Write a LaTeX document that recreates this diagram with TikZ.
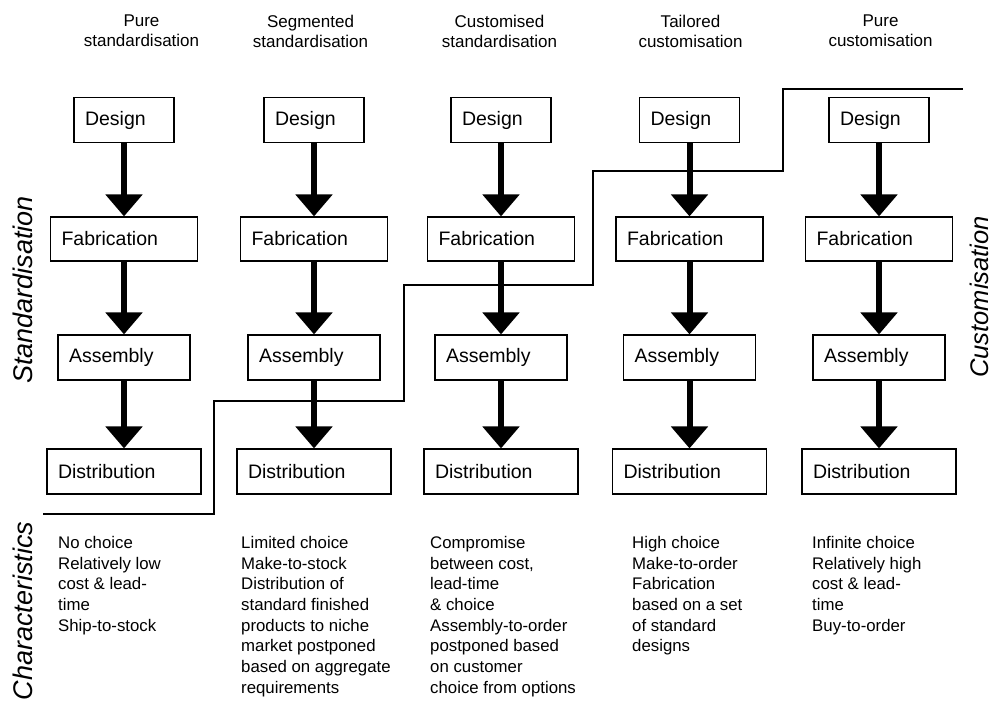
\documentclass[tikz,border=0pt]{standalone}
\usepackage{fontspec}
\setmainfont{Liberation Sans}
\usetikzlibrary{arrows.meta}
\begin{document}
\begin{tikzpicture}[x=1pt,y=-1pt,
  pbox/.style={draw=black, line width=1.2pt, inner xsep=11pt, inner ysep=0pt, align=left, font=\fontsize{19.5}{22}\selectfont},
  dbox/.style={pbox, minimum height=45pt, text width=78pt},
  fbox/.style={pbox, minimum height=44pt, text width=125pt},
  abox/.style={pbox, minimum height=45pt, text width=110pt},
  tbox/.style={pbox, minimum height=45pt, text width=132pt},
  flow/.style={line width=6pt, -{Triangle[width=36pt,length=22pt]}},
  header/.style={anchor=north, inner sep=0pt, align=center, font=\fontsize{17}{20}\selectfont},
  chartext/.style={anchor=north west, inner sep=0pt, align=left, font=\fontsize{16.8}{20.7}\selectfont},
  sidelabel/.style={rotate=90, inner sep=0pt, font=\fontsize{27}{30}\selectfont\itshape},
  stair/.style={line width=1.2pt}
]
\useasboundingbox (0,0) rectangle (993,702);

% headers
\node[header] (h1) at (141.5,15) {Pure\\standardisation};
\node[header] (h2) at (310.5,15) {Segmented\\standardisation};
\node[header] (h3) at (499.5,15) {Customised\\standardisation};
\node[header] (h4) at (690.5,15) {Tailored\\customisation};
\node[header] (h5) at (880.5,15) {Pure\\customisation};

% side labels
\node[sidelabel] (std) at (23,290) {Standardisation};
\node[sidelabel] (chr) at (23,611) {Characteristics};
\node[sidelabel, font=\fontsize{25.5}{28}\selectfont\itshape] (cus) at (979,297) {Customisation};

% boxes
\foreach \i/\xc in {1/124,2/314,3/501,4/689.5,5/879}{
  \node[dbox] (d\i) at (\xc,120) {Design};
  \node[fbox] (f\i) at (\xc,239) {Fabrication};
  \node[abox] (a\i) at (\xc,357.5) {Assembly};
  \node[tbox] (t\i) at (\xc,471.5) {Distribution};
  \draw[flow] (d\i.south) -- (f\i.north);
  \draw[flow] (f\i.south) -- (a\i.north);
  \draw[flow] (a\i.south) -- (t\i.north);
}

% staircase boundary
\coordinate (s0) at (43,514);
\coordinate (s1) at (214,514);
\coordinate (s2) at (214,401);
\coordinate (s3) at (404,401);
\coordinate (s4) at (404,285);
\coordinate (s5) at (593,285);
\coordinate (s6) at (593,171);
\coordinate (s7) at (783,171);
\coordinate (s8) at (783,89);
\coordinate (s9) at (963,89);
\draw[stair] (s0) -- (s1) -- (s2) -- (s3) -- (s4) -- (s5) -- (s6) -- (s7) -- (s8) -- (s9);

% characteristics
\node[chartext] (c1) at (58,536) {No choice\\Relatively low\\cost \& lead-\\time\\Ship-to-stock};
\node[chartext] (c2) at (241,536) {Limited choice\\Make-to-stock\\Distribution of\\standard finished\\products to niche\\market postponed\\based on aggregate\\requirements};
\node[chartext] (c3) at (430,536) {Compromise\\between cost,\\lead-time\\\& choice\\Assembly-to-order\\postponed based\\on customer\\choice from options};
\node[chartext] (c4) at (632,536) {High choice\\Make-to-order\\Fabrication\\based on a set\\of standard\\designs};
\node[chartext] (c5) at (812,536) {Infinite choice\\Relatively high\\cost \& lead-\\time\\Buy-to-order};
\end{tikzpicture}
\end{document}
